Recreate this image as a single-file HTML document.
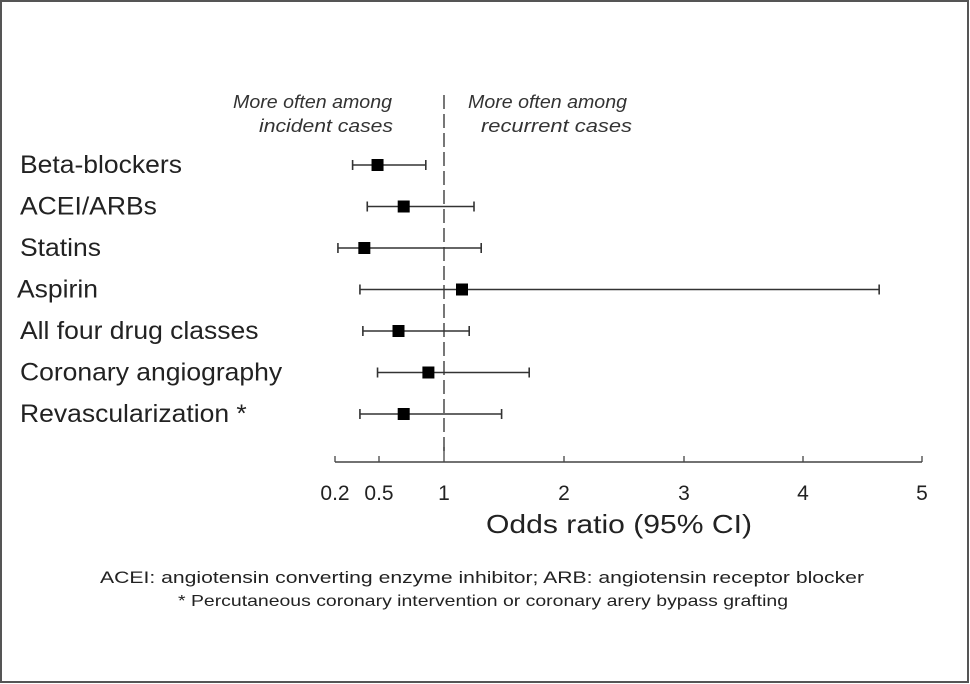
<!DOCTYPE html>
<html><head><meta charset="utf-8"><style>
html,body{margin:0;padding:0;background:#fff}
svg{display:block;font-family:"Liberation Sans",Arial,sans-serif}
</style></head><body>
<svg id="chart" width="970" height="684" viewBox="0 0 970 684">
<rect x="1" y="1" width="967" height="681" fill="#fff" stroke="#555" stroke-width="2"/>
<g id="g"></g>
</svg>
<script>
const categories=["Beta-blockers","ACEI/ARBs","Statins","Aspirin","All four drug classes","Coronary angiography","Revascularization *"];
const estimates=[0.49,0.69,0.40,1.15,0.65,0.88,0.69];
const lowerCI=[0.32,0.42,0.22,0.37,0.39,0.49,0.37];
const upperCI=[0.86,1.25,1.31,4.64,1.21,1.71,1.48];
const tickValues=[0.2,0.5,1,2,3,4,5];
const tickLabels=["0.2","0.5","1","2","3","4","5"];
const ns="http://www.w3.org/2000/svg";
const g=document.getElementById('g');
const tickPx=[335,379,444,564,684,803,922];
function xs(v){
  if(v<=tickValues[0]) return tickPx[0]+(v-tickValues[0])*147;
  for(let i=0;i<tickValues.length-1;i++){
    if(v<=tickValues[i+1]){const t=(v-tickValues[i])/(tickValues[i+1]-tickValues[i]);return tickPx[i]+t*(tickPx[i+1]-tickPx[i]);}
  }
  return tickPx[6]+(v-5)*119.5;
}
function ys(i){return 165+i*41.5;}
function el(tag,attrs,text){const e=document.createElementNS(ns,tag);for(const k in attrs)e.setAttribute(k,attrs[k]);if(text!==undefined)e.textContent=text;g.appendChild(e);return e;}
let ref=el('line',{x1:xs(1),x2:xs(1),y1:95,y2:455,stroke:'#555','stroke-width':1.6,'stroke-dasharray':'14 5'});


let ax=el('line',{x1:xs(0.2),x2:xs(5),y1:462,y2:462,stroke:'#444','stroke-width':1.5});


tickValues.forEach((v,i)=>{
  let t=el('line',{x1:xs(v),x2:xs(v),y1:v===1?447:456,y2:462,stroke:'#444','stroke-width':1.3});
  
  
  let l=el('text',{x:xs(v),y:500,'font-size':21,'text-anchor':'middle',fill:'#222'},tickLabels[i]);
  
  
});
let xt=el('text',{x:486,y:533,'font-size':26,fill:'#222',textLength:266,lengthAdjust:'spacingAndGlyphs'},'Odds ratio (95% CI)');


[["More often among",233,108,159],["incident cases",259,132,134],["More often among",468,108,159],["recurrent cases",481,132,151]].forEach(a=>{
  let t=el('text',{x:a[1],y:a[2],'font-size':18,'font-style':'italic',fill:'#333',textLength:a[3],lengthAdjust:'spacingAndGlyphs'},a[0]);
  
  
});
categories.forEach((c,i)=>{
  const y=ys(i);
  let lab=el('text',{x:0,y:0,'font-size':25,fill:'#222',transform:`translate(${i===3?17:20},${y+8}) scale(1.06,1)`},c);
  
  
  let ci=el('line',{x1:xs(lowerCI[i]),x2:xs(upperCI[i]),y1:y,y2:y,stroke:'#333','stroke-width':1.6});
  
  
  [lowerCI[i],upperCI[i]].forEach(v=>{
    let cap=el('line',{x1:xs(v),x2:xs(v),y1:y-5,y2:y+5,stroke:'#333','stroke-width':1.6});
    
    
  });
  let pt=el('rect',{x:xs(estimates[i])-6,y:y-6,width:12,height:12,fill:'#000'});
  
  
});
let f1=el('text',{x:100,y:583,'font-size':16.5,fill:'#222',textLength:764,lengthAdjust:'spacingAndGlyphs'},'ACEI: angiotensin converting enzyme inhibitor;   ARB: angiotensin receptor blocker');


let f2=el('text',{x:178,y:606,'font-size':16,fill:'#222',textLength:610,lengthAdjust:'spacingAndGlyphs'},'* Percutaneous coronary intervention or coronary arery bypass grafting');


</script>
</body></html>
